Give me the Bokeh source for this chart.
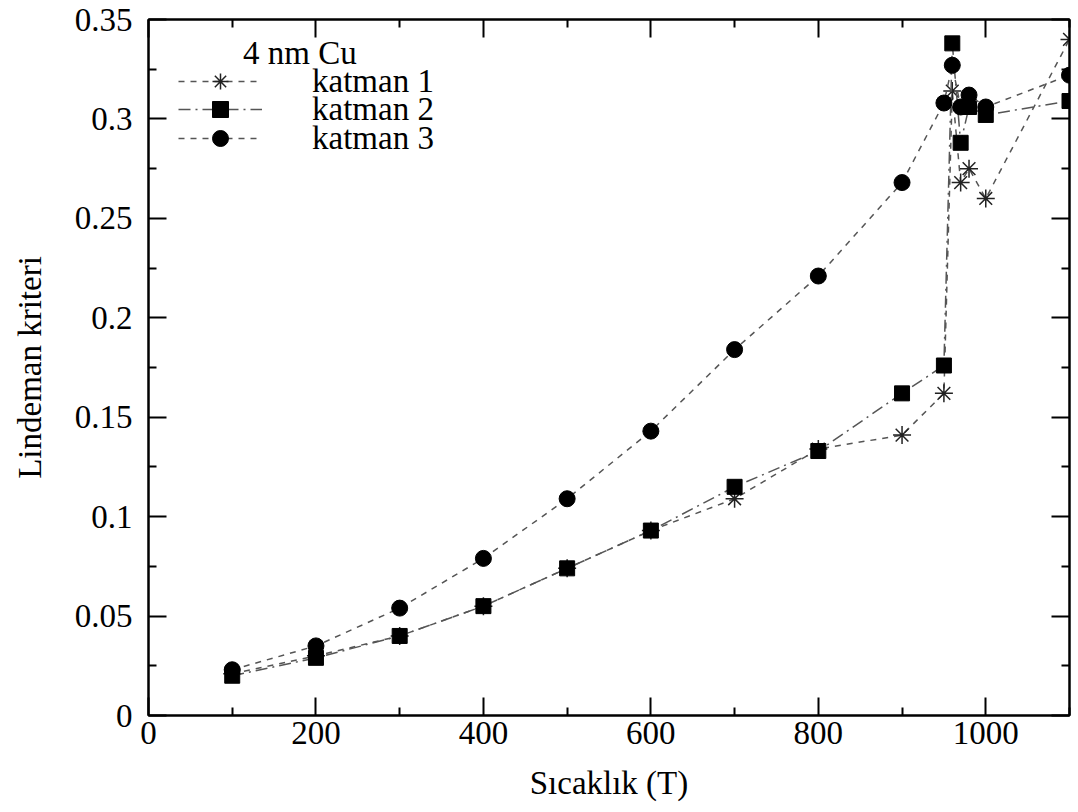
from bokeh.plotting import figure
from bokeh.models import (Range1d, FixedTicker, LinearAxis, Legend, LegendItem, Label,
                          CustomLabelingPolicy)
from bokeh.embed import file_html
from bokeh.resources import INLINE

# ---- data ----
temps = [100, 200, 300, 400, 500, 600, 700, 800, 900, 950, 960, 970, 980, 1000, 1100]
katman1 = [0.021, 0.030, 0.040, 0.055, 0.074, 0.093, 0.109, 0.134, 0.141, 0.162,
           0.314, 0.268, 0.275, 0.260, 0.340]
katman2 = [0.020, 0.029, 0.040, 0.055, 0.074, 0.093, 0.115, 0.133, 0.162, 0.176,
           0.338, 0.288, 0.306, 0.302, 0.309]
katman3 = [0.023, 0.035, 0.054, 0.079, 0.109, 0.143, 0.184, 0.221, 0.268, 0.308,
           0.327, 0.306, 0.312, 0.306, 0.322]
series_names = ["katman 1", "katman 2", "katman 3"]

x_ticks = [0, 200, 400, 600, 800, 1000]
x_minor = [100, 300, 500, 700, 900, 1100]
y_ticks = [0, 0.05, 0.1, 0.15, 0.2, 0.25, 0.3, 0.35]
y_minor = [0.025, 0.075, 0.125, 0.175, 0.225, 0.275, 0.325]
y_tick_labels = ["0", "0.05", "0.1", "0.15", "0.2", "0.25", "0.3", "0.35"]

FONT = "Liberation Serif"
FS = "33px"
LINE_COL = "#555555"

p = figure(width=1078, height=812, output_backend="svg", toolbar_location=None,
           x_range=Range1d(0, 1100), y_range=Range1d(0, 0.35),
           min_border_left=148, min_border_right=9, min_border_top=19,
           min_border_bottom=97)
p.grid.visible = False
p.outline_line_color = "black"
p.outline_line_width = 2
p.background_fill_color = "white"
p.border_fill_color = "white"

xt = FixedTicker(ticks=x_ticks, minor_ticks=x_minor)
yt = FixedTicker(ticks=y_ticks, minor_ticks=y_minor)


def style_axis(ax, ticker):
    ax.ticker = ticker
    ax.axis_line_width = 2
    ax.major_tick_in = 18
    ax.major_tick_out = 0
    ax.minor_tick_in = 8
    ax.minor_tick_out = 0
    ax.major_tick_line_width = 2
    ax.minor_tick_line_width = 2
    ax.major_label_text_font = FONT
    ax.major_label_text_font_size = FS
    ax.major_label_text_color = "black"
    ax.axis_label_text_font = FONT
    ax.axis_label_text_font_size = FS
    ax.axis_label_text_font_style = "normal"
    ax.axis_label_text_color = "black"


xa = p.xaxis[0]
ya = p.yaxis[0]
style_axis(xa, xt)
style_axis(ya, yt)
xa.axis_label = "Sıcaklık (T)"
ya.axis_label = "Lindeman kriteri"
xa.major_label_standoff = 6
xa.axis_label_standoff = 18
ya.major_label_standoff = 16
ya.axis_label_standoff = 24
ya.major_label_overrides = {t: s for t, s in zip(y_ticks, y_tick_labels)}

hide_labels = CustomLabelingPolicy(code="""
    const all = [...indices];
    for (const i of all) indices.unset(i);
    return indices;
""")

# mirrored tick marks on the top and right sides (no labels)
top = LinearAxis()
style_axis(top, xt)
top.major_label_policy = hide_labels
top.major_label_text_font_size = "0px"
top.major_label_standoff = 0
p.add_layout(top, "above")
right = LinearAxis()
style_axis(right, yt)
right.major_label_policy = hide_labels
right.major_label_text_font_size = "0px"
right.major_label_standoff = 0
p.add_layout(right, "right")

l1 = p.line(temps, katman1, line_color=LINE_COL, line_width=1.5, line_dash="6 6")
s1 = p.scatter(temps, katman1, marker="asterisk", size=18, line_color="#222222",
               line_width=1.5)
l2 = p.line(temps, katman2, line_color=LINE_COL, line_width=1.5, line_dash="12 5 2 5")
s2 = p.scatter(temps, katman2, marker="square", size=15, fill_color="black",
               line_color="black")
l3 = p.line(temps, katman3, line_color=LINE_COL, line_width=1.5, line_dash="6 6")
s3 = p.scatter(temps, katman3, marker="circle", size=16, fill_color="black",
               line_color="black")

# one legend per row, so rows sit as tightly as in the reference
row_bottoms = [614, 586, 557]
for name, rs, yb in zip(series_names, [[l1, s1], [l2, s2], [l3, s3]], row_bottoms):
    lg = Legend(items=[LegendItem(label=name, renderers=rs)],
                location=(30, yb), border_line_color=None,
                background_fill_alpha=0, glyph_width=84, glyph_height=40,
                label_standoff=50, label_text_font=FONT, label_text_font_size=FS,
                label_text_color="black",
                label_height=20, padding=0, margin=0, spacing=0)
    p.add_layout(lg)

p.add_layout(Label(x=113, y=0.3333, text="4 nm Cu", text_font=FONT,
                   text_font_size=FS, text_baseline="alphabetic",
                   text_color="black"))

open("out.html", "w").write(file_html(p, INLINE))
